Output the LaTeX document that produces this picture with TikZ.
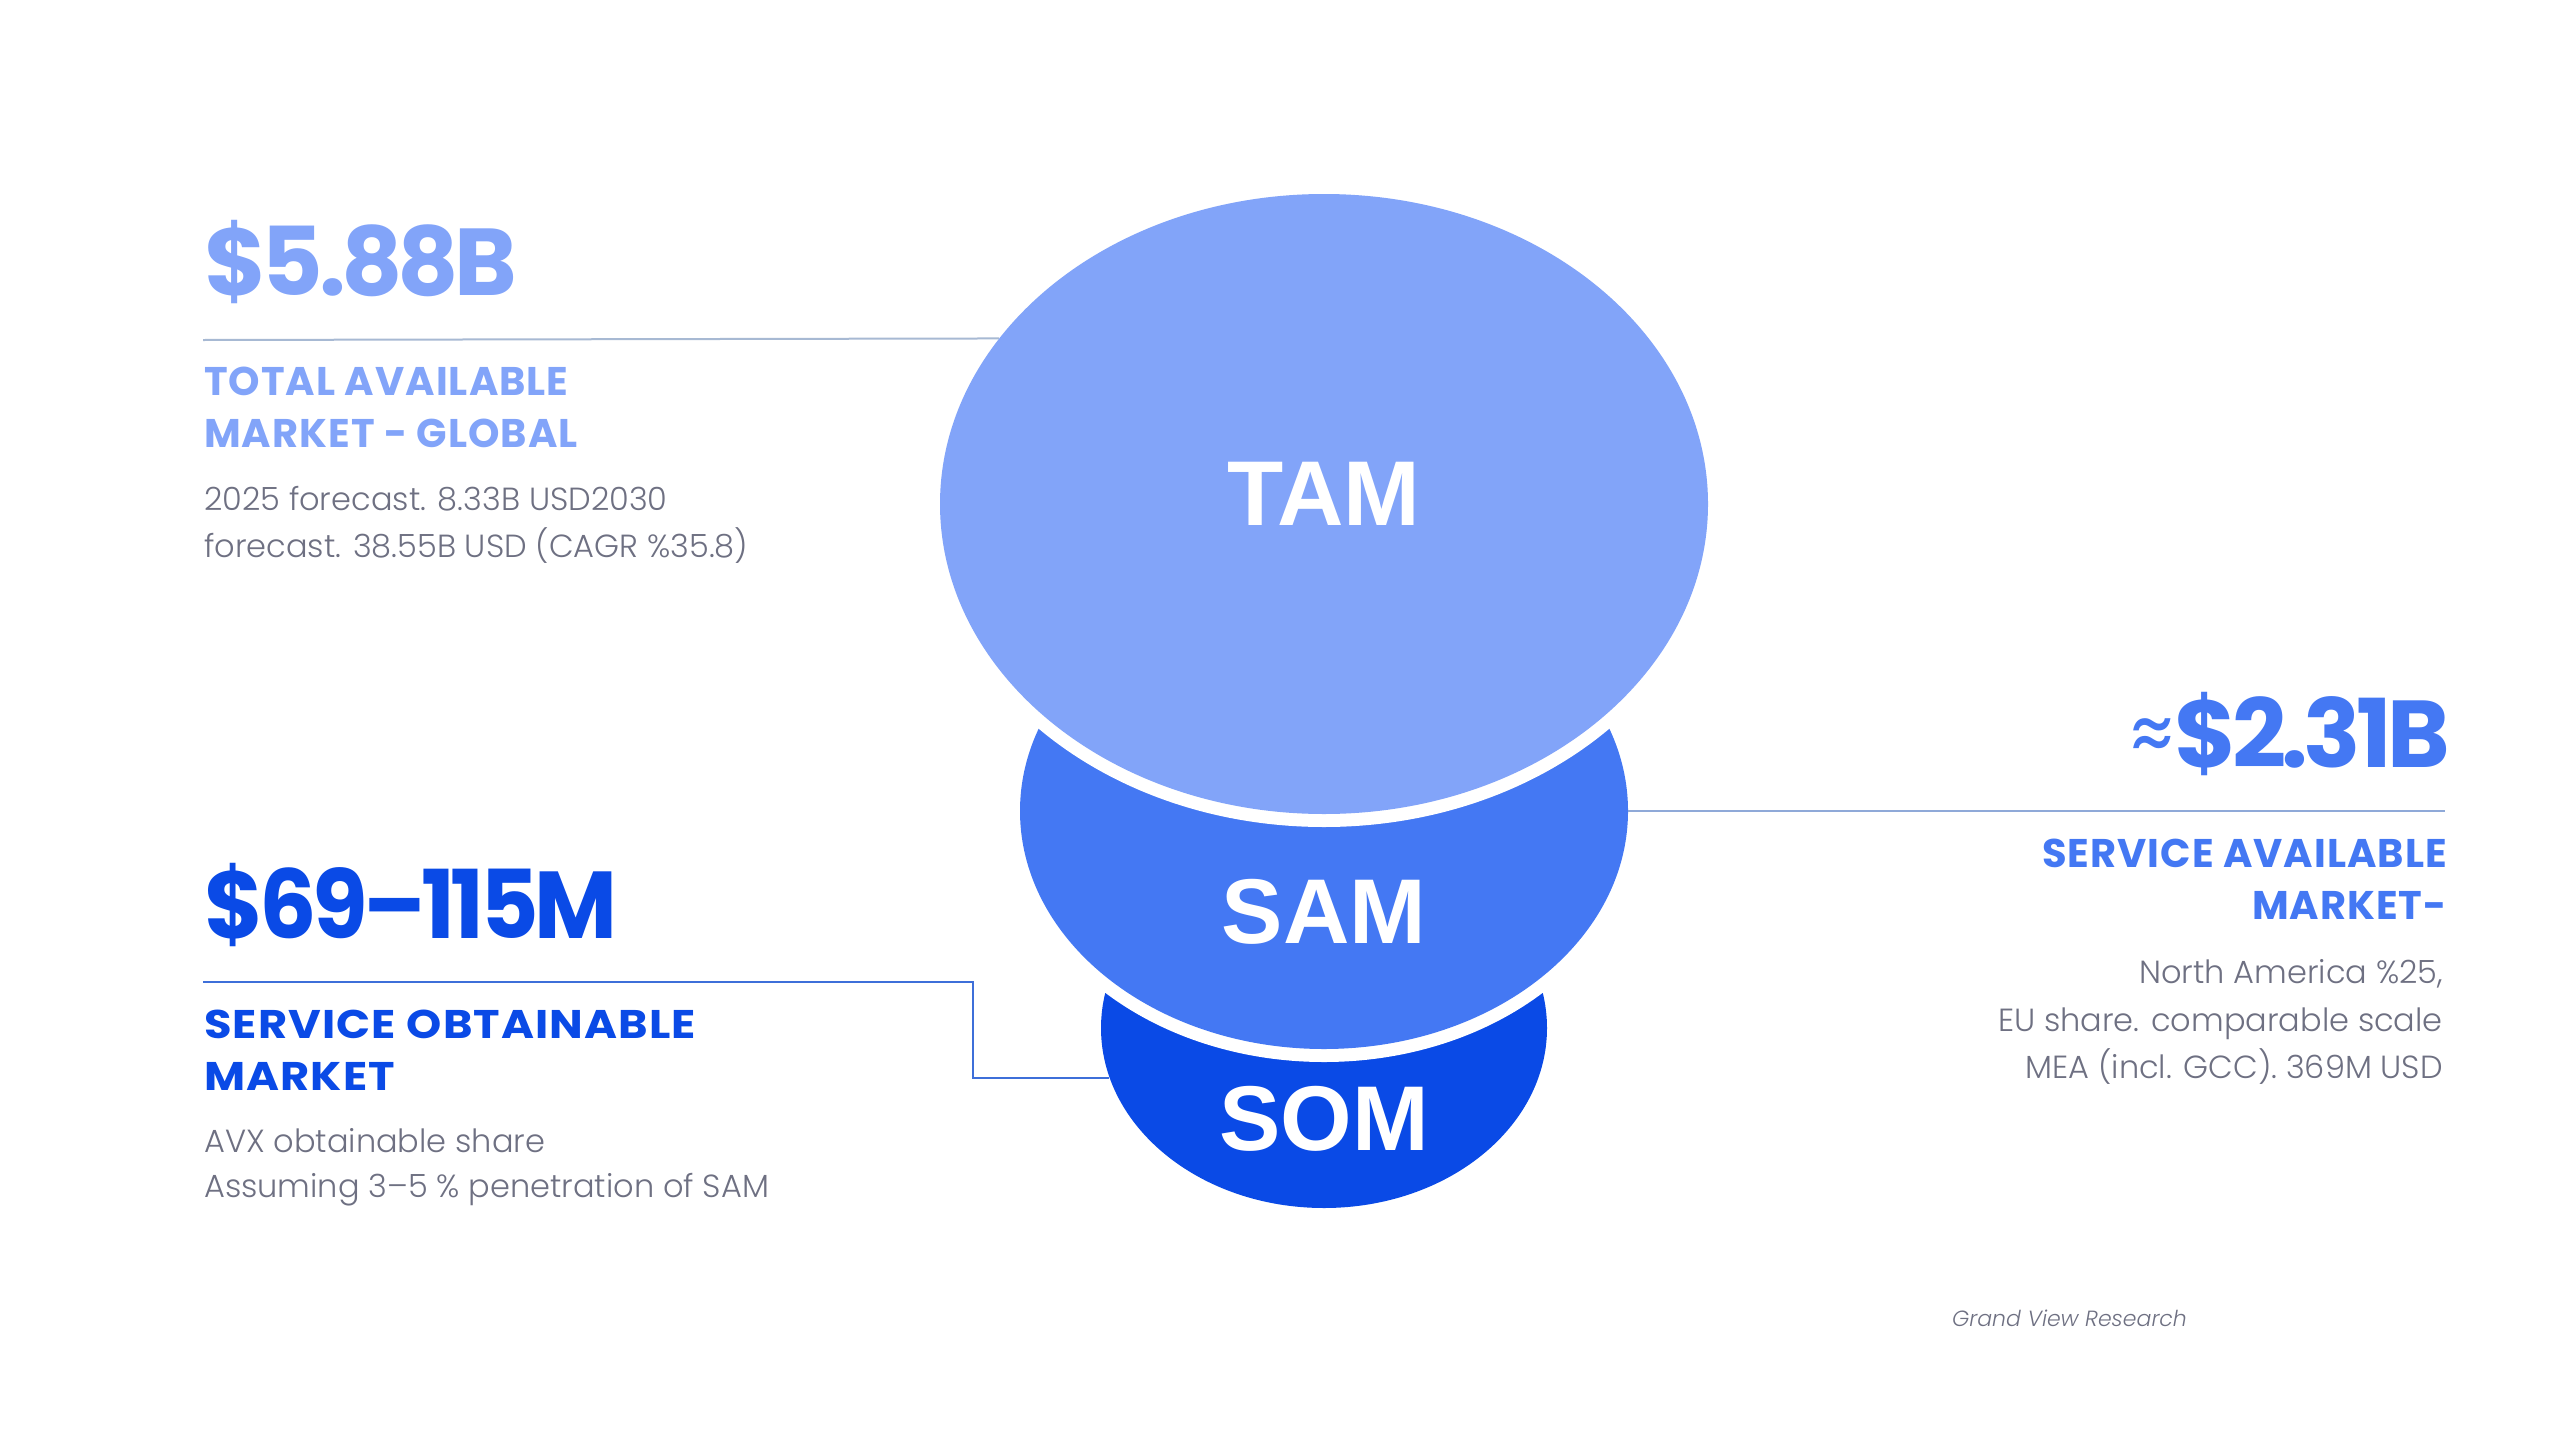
\documentclass[tikz,border=0pt]{standalone}
\usepackage{fontspec}
\usetikzlibrary{shapes.geometric}
\setmainfont{Poppins}
\newfontfamily\popbig[LetterSpace=-5]{Poppins}
\newfontfamily\pophead[LetterSpace=2.5]{Poppins}
\newfontfamily\poplight{Poppins Light}
\newfontfamily\arialf{Liberation Sans}
\definecolor{tamc}{HTML}{82A4F9}
\definecolor{samc}{HTML}{4478F3}
\definecolor{somc}{HTML}{0A4AE6}
\definecolor{bodyc}{HTML}{6E7082}
\definecolor{tlinec}{HTML}{A7B9D3}
\definecolor{slinec}{HTML}{8FA9D8}
\definecolor{olinec}{HTML}{3E6FD9}
\tikzset{
  bubble/.style={ellipse, inner sep=0pt, preaction={draw=white, line width=26pt}},
  bignum/.style={inner sep=0pt, anchor=base west, font=\popbig\bfseries\fontsize{95}{95}\selectfont},
  bignumr/.style={bignum, anchor=base east},
  headtxt/.style={inner sep=0pt, anchor=base west, font=\pophead\bfseries\fontsize{40}{40}\selectfont},
  headtxtr/.style={headtxt, anchor=base east},
  bodytxt/.style={inner sep=0pt, anchor=base west, text=bodyc, font=\poplight\fontsize{32}{32}\selectfont},
  bodytxtr/.style={bodytxt, anchor=base east},
  lbl/.style={inner sep=0pt, anchor=base, text=white, font=\arialf\bfseries\fontsize{92}{92}\selectfont},
}
\begin{document}
\begin{tikzpicture}[x=1pt, y=-1pt]
\useasboundingbox (0,0) rectangle (2559,1440);
% bubbles (bottom first)
\node[bubble, fill=somc, minimum width=446pt, minimum height=360pt] (som) at (1324,1028) {};
\node[bubble, fill=samc, minimum width=608pt, minimum height=476pt] (sam) at (1324,811) {};
\node[bubble, fill=tamc, minimum width=768pt, minimum height=620pt] (tam) at (1324,504) {};
% labels
\node[lbl] (tamlbl) at (1324,525) {TAM};
\node[lbl] (samlbl) at (1324,943) {SAM};
\node[lbl] (somlbl) at (1324,1150) {SOM};
% TAM text
\node[bignum, text=tamc] (tamnum) at (204,295) {\$5.88B};
\node[headtxt, text=tamc] (tamh1) at (204,395) {TOTAL AVAILABLE};
\node[headtxt, text=tamc] (tamh2) at (204,447) {MARKET - GLOBAL};
\node[bodytxt] (tamb1) at (204,510) {2025 forecast. 8.33B USD2030};
\node[bodytxt] (tamb2) at (204,557) {forecast. 38.55B USD (CAGR \%35.8)};
% SAM text
\node[bignumr, text=samc] (samnum) at (2450,767) {{\mdseries\fontsize{84}{84}\selectfont\raisebox{2pt}{≈}}\$2.31B};
\node[headtxtr, text=samc] (samh1) at (2447,867) {SERVICE AVAILABLE};
\node[headtxtr, text=samc] (samh2) at (2447,919) {MARKET-};
\node[bodytxtr] (samb1) at (2443,983) {North America \%25,};
\node[bodytxtr] (samb2) at (2443,1031) {EU share. comparable scale};
\node[bodytxtr] (samb3) at (2443,1078) {MEA (incl. GCC). 369M USD};
% SOM text
\node[bignum, text=somc] (somnum) at (204,938) {\scalebox{0.95}[1]{\$69–115M}};
\node[headtxt, text=somc] (somh1) at (204,1038) {\scalebox{1.12}[1]{SERVICE OBTAINABLE}};
\node[headtxt, text=somc] (somh2) at (204,1090) {\scalebox{1.12}[1]{MARKET}};
\node[bodytxt] (somb1) at (204,1152) {AVX obtainable share};
\node[bodytxt] (somb2) at (204,1197) {Assuming 3–5 \% penetration of SAM};
% source
\node[inner sep=0pt, anchor=base west, text=bodyc, font=\poplight\itshape\fontsize{22}{22}\selectfont] (src) at (1952,1326) {Grand View Research};
% connectors
\coordinate (tamL) at (203,340);
\draw[tlinec, line width=2pt] (tamL) -- (tam.153.29);
\coordinate (samR) at (2445,811);
\draw[slinec, line width=2pt] (sam.east) -- (samR);
\coordinate (somL) at (203,982);
\coordinate (somK) at (973,982);
\draw[olinec, line width=2pt] (somL) -- (somK) |- (som.193.14);
\end{tikzpicture}
\end{document}
